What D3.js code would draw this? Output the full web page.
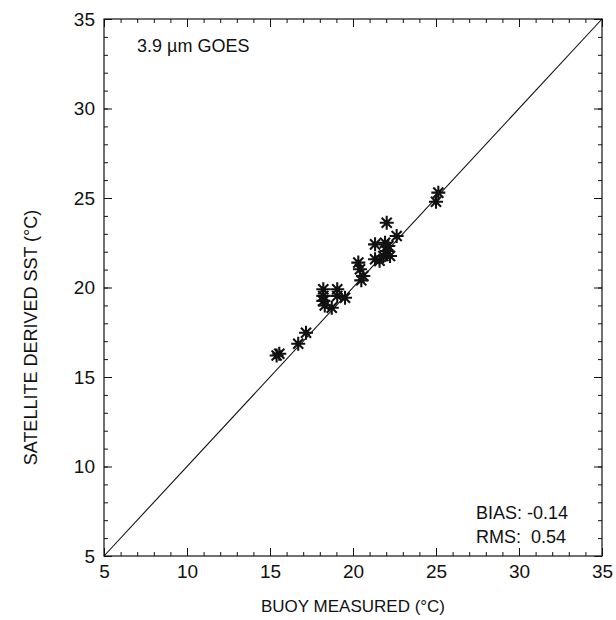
<!DOCTYPE html>
<html>
<head>
<meta charset="utf-8">
<script src="https://cdn.jsdelivr.net/npm/d3@7"></script>
<style>
  body { margin: 0; background: #fff; }
  svg text { font-family: "Liberation Sans", Arial, sans-serif; fill: #111; }
</style>
</head>
<body>
<svg id="chart" width="616" height="620"></svg>
<script>
// buoy measured vs satellite derived SST (deg C)
var buoy = [15.56, 15.4, 16.70, 17.17, 18.21, 18.21, 18.21, 18.3, 18.72, 19.05, 19.05, 19.52,
            20.32, 20.42, 20.62, 20.5, 21.33, 21.33, 21.93, 22.03, 22.63, 22.03, 21.83, 22.23,
            22.13, 21.6, 25.14, 25.0];
var sst  = [16.30, 16.2, 16.86, 17.47, 19.90, 19.53, 19.25, 19.0, 18.87, 19.90, 19.53, 19.43,
            21.39, 21.02, 20.64, 20.4, 21.58, 22.41, 22.50, 23.62, 22.88, 22.04, 21.76, 21.76,
            22.32, 21.5, 25.30, 24.79];

var ticks = [5, 10, 15, 20, 25, 30, 35];
var minorTicks = d3.range(5, 36, 1);
var statsLines = ['BIAS: -0.14', 'RMS:  0.54'];
var title = '3.9 \u00b5m GOES';

var svg = d3.select('#chart');
var margin = {left: 104, top: 19, right: 14, bottom: 64};
var width = 616 - margin.left - margin.right;
var height = 620 - margin.top - margin.bottom;

var g = svg.append('g').attr('transform', 'translate(' + margin.left + ',' + margin.top + ')');

var x = d3.scaleLinear().domain([5, 35]).range([0, width]);
var y = d3.scaleLinear().domain([5, 35]).range([height, 0]);

//frame
g.append('rect')
    .attr('width', width)
    .attr('height', height)
    .attr('fill', 'none')
    .attr('stroke', '#111')
    .attr('stroke-width', 1.2);

//inward ticks on all four sides, minor first then major with labels
function tickAxis(axisFn, scale, len, tv, showLabels) {
    var a = axisFn(scale).tickValues(tv).tickSize(-len).tickPadding(9);
    if (!showLabels) a.tickFormat('');
    return a;
}

var axes = [
    {fn: d3.axisBottom, scale: x, t: 'translate(0,' + height + ')', labels: true},
    {fn: d3.axisTop, scale: x, t: 'translate(0,0)', labels: false},
    {fn: d3.axisLeft, scale: y, t: 'translate(0,0)', labels: true},
    {fn: d3.axisRight, scale: y, t: 'translate(' + width + ',0)', labels: false}
];

axes.forEach(function(ax) {
    g.append('g')
        .attr('transform', ax.t)
        .call(tickAxis(ax.fn, ax.scale, 4, minorTicks, false))
        .call(function(s) { s.select('.domain').remove(); });
    var major = g.append('g')
        .attr('transform', ax.t)
        .call(tickAxis(ax.fn, ax.scale, 8, ticks, ax.labels))
        .call(function(s) { s.select('.domain').remove(); });
    major.selectAll('text')
        .style('font-size', '19px')
        .style('font-family', '"Liberation Sans", Arial, sans-serif')
        .attr('fill', '#111');
});

g.selectAll('.tick line').attr('stroke', '#111').attr('stroke-width', 1);

//1:1 line
g.append('line')
    .attr('x1', x(5)).attr('y1', y(5))
    .attr('x2', x(35)).attr('y2', y(35))
    .attr('stroke', '#111')
    .attr('stroke-width', 1.1);

//asterisk markers
var r = 7;
var d = r * 0.72;
var star = 'M' + (-r) + ',0L' + r + ',0M0,' + (-r) + 'L0,' + r +
           'M' + (-d) + ',' + (-d) + 'L' + d + ',' + d +
           'M' + (-d) + ',' + d + 'L' + d + ',' + (-d);

g.append('g')
    .selectAll('path')
    .data(buoy)
    .enter()
    .append('path')
    .attr('d', star)
    .attr('transform', function(b, i) { return 'translate(' + x(b) + ',' + y(sst[i]) + ')'; })
    .attr('stroke', '#111')
    .attr('stroke-width', 2.1)
    .attr('fill', 'none');

//annotations
g.append('text')
    .attr('x', 33).attr('y', 33)
    .style('font-size', '18px')
    .text(title);

g.selectAll('.stat')
    .data(statsLines)
    .enter()
    .append('text')
    .attr('class', 'stat')
    .attr('x', 372)
    .attr('y', function(s, i) { return 500 + i * 24; })
    .style('font-size', '18px')
    .style('white-space', 'pre')
    .text(function(s) { return s; });

//axis titles
svg.append('text')
    .attr('x', margin.left + width / 2)
    .attr('y', 612)
    .attr('text-anchor', 'middle')
    .style('font-size', '17px')
    .text('BUOY MEASURED (\u00b0C)');

svg.append('text')
    .attr('transform', 'translate(37,' + (margin.top + height / 2 + 50) + ') rotate(-90)')
    .attr('text-anchor', 'middle')
    .style('font-size', '18px')
    .text('SATELLITE DERIVED SST (\u00b0C)');
</script>
</body>
</html>
